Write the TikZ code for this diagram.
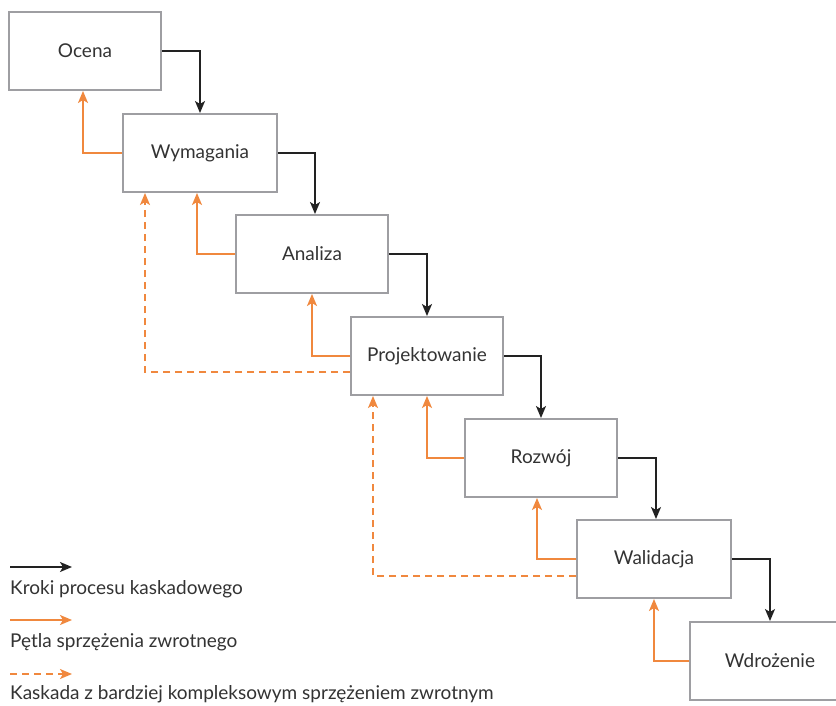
\documentclass[tikz,border=0pt]{standalone}
\usepackage{fontspec}
\setmainfont{Lato}
\usetikzlibrary{arrows.meta}
\definecolor{boxgray}{RGB}{158,158,162}
\definecolor{fborange}{RGB}{240,136,62}
\definecolor{stepblack}{RGB}{34,34,34}
\definecolor{txt}{RGB}{51,51,51}
\begin{document}
\begin{tikzpicture}[x=1pt,y=-1pt,
  phase/.style={draw=boxgray, line width=2pt, fill=white, minimum width=152pt, minimum height=78pt, inner sep=0pt, text=txt, font=\fontsize{19}{22}\selectfont},
  flow/.style={draw=stepblack, line width=1.5pt, -{Stealth[length=12pt,width=10pt,inset=3pt]}},
  fb/.style={draw=fborange, line width=1.5pt, -{Stealth[length=12pt,width=10pt,inset=3pt]}},
  fbdash/.style={fb, dash pattern=on 7pt off 5pt},
  legtext/.style={anchor=west, inner sep=0pt, text=txt, font=\fontsize{19}{22}\selectfont}]
\clip (0,0) rectangle (836,705);
\fill[white] (0,0) rectangle (836,705);

\node[phase] (oc) at (85,51) {Ocena};
\node[phase, minimum width=154pt] (wy) at (200,153) {Wymagania};
\node[phase] (an) at (312,254) {Analiza};
\node[phase] (pr) at (427,356) {Projektowanie};
\node[phase] (ro) at (541,458) {Rozwój};
\node[phase, minimum width=154pt] (wa) at (654,559) {Walidacja};
\node[phase, minimum width=160pt] (wd) at (770,661) {Wdrożenie};

% main cascade
\draw[flow] (oc.east) -| (wy.north);
\draw[flow] (wy.east) -| ([xshift=3pt]an.north);
\draw[flow] (an.east) -| (pr.north);
\draw[flow] (pr.east) -| (ro.north);
\draw[flow] (ro.east) -| ([xshift=2pt]wa.north);
\draw[flow] (wa.east) -| (wd.north);

% feedback loops
\draw[fb] (wy.west) -| ([xshift=-2pt]oc.south);
\draw[fb] (an.west) -| ([xshift=-3pt]wy.south);
\draw[fb] (pr.west) -| (an.south);
\draw[fb] (ro.west) -| (pr.south);
\draw[fb] (wa.west) -| ([xshift=-4pt]ro.south);
\draw[fb] (wd.west) -| (wa.south);

% complex feedback
\draw[fbdash] ([yshift=-16pt]pr.west) -| ([xshift=23pt]wy.south west);
\draw[fbdash] ([yshift=-17pt]wa.west) -| ([xshift=23pt]pr.south west);

% legend
\coordinate (l1a) at (10,567);
\coordinate (l1b) at (72,567);
\draw[flow] (l1a) -- (l1b);
\node[legtext] (t1) at (10,589) {Kroki procesu kaskadowego};
\coordinate (l2a) at (10,620);
\coordinate (l2b) at (72,620);
\draw[fb] (l2a) -- (l2b);
\node[legtext] (t2) at (10,642) {Pętla sprzężenia zwrotnego};
\coordinate (l3a) at (10,674);
\coordinate (l3b) at (72,674);
\draw[fbdash] (l3a) -- (l3b);
\node[legtext] (t3) at (10,694) {Kaskada z bardziej kompleksowym sprzężeniem zwrotnym};
\end{tikzpicture}
\end{document}
